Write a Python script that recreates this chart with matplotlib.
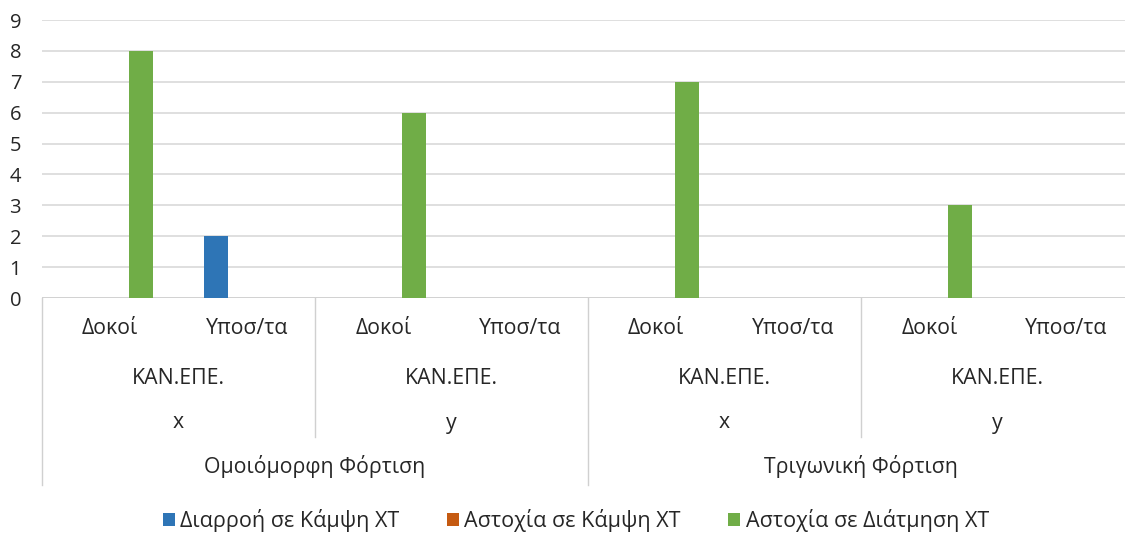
import matplotlib
matplotlib.use("Agg")
import matplotlib.pyplot as plt
from matplotlib.patches import Patch
import numpy as np

plt.rcParams['font.family'] = ['Open Sans', 'DejaVu Sans']

# Hierarchical category labels (inner -> outer)
element_labels = ["Δοκοί", "Υποσ/τα"] * 4
code_labels = ["ΚΑΝ.ΕΠΕ."] * 4
direction_labels = ["x", "y", "x", "y"]
loading_labels = ["Ομοιόμορφη Φόρτιση", "Τριγωνική Φόρτιση"]

series_names = ["Διαρροή σε Κάμψη ΧΤ", "Αστοχία σε Κάμψη ΧΤ", "Αστοχία σε Διάτμηση ΧΤ"]
yield_bending = [0, 2, 0, 0, 0, 0, 0, 0]
fail_bending = [0, 0, 0, 0, 0, 0, 0, 0]
fail_shear = [8, 0, 6, 0, 7, 0, 3, 0]
colors = ["#2E75B6", "#C55A11", "#70AD47"]

TEXT = '#262626'
W, H = 1125, 534
fig = plt.figure(figsize=(W / 100, H / 100), dpi=100)
ax = fig.add_axes([42 / W, 1 - 298 / H, 1092 / W, 278 / H])

x = np.arange(len(element_labels))
offset = 0.225
width = 0.172
for i, vals in enumerate([yield_bending, fail_bending, fail_shear]):
    ax.bar(x + (i - 1) * offset, vals, width, color=colors[i], zorder=3)

ax.set_xlim(-0.5, len(x) - 0.5)
ax.set_ylim(0, 9)
ax.set_yticks(range(10))
ax.grid(axis='y', color='#d9d9d9', linewidth=1.2, zorder=0)
for s in ax.spines.values():
    s.set_visible(False)
ax.tick_params(axis='y', length=0, labelsize=14.5, pad=15, labelcolor=TEXT)
ax.set_xticks([])
ax.axhline(0, color='#d0d0d0', linewidth=1.2, zorder=2)

tr = ax.get_xaxis_transform()
def yf(py):
    return (298 - py) / 278

line_kw = dict(color='#d0d0d0', linewidth=1.0, transform=tr, clip_on=False)
# Separator lines in the category label area
ax.plot([-0.5, -0.5], [yf(298), yf(485)], **line_kw)
ax.plot([3.5, 3.5], [yf(298), yf(485)], **line_kw)
ax.plot([7.5, 7.5], [yf(298), yf(485)], **line_kw)
ax.plot([1.5, 1.5], [yf(298), yf(437)], **line_kw)
ax.plot([5.5, 5.5], [yf(298), yf(437)], **line_kw)

txt_kw = dict(transform=tr, ha='center', va='center', fontsize=15.3, color=TEXT, clip_on=False)
for i, lab in enumerate(element_labels):
    ax.text(i, yf(329), lab, **txt_kw)
for j, lab in enumerate(code_labels):
    ax.text(2 * j + 0.5, yf(378), lab, **txt_kw)
for j, lab in enumerate(direction_labels):
    ax.text(2 * j + 0.5, yf(423), lab, **txt_kw)
for j, lab in enumerate(loading_labels):
    ax.text(4 * j + 1.5, yf(467), lab, **txt_kw)

handles = [Patch(facecolor=c, edgecolor='none') for c in colors]
fig.legend(handles, series_names, loc='center', bbox_to_anchor=(576 / W, 1 - 521 / H),
           ncol=3, frameon=False, fontsize=15.5, handlelength=0.56, handleheight=0.56,
           handletextpad=0.25, columnspacing=2.2, labelcolor=TEXT)

fig.savefig("out.png", dpi=100)
